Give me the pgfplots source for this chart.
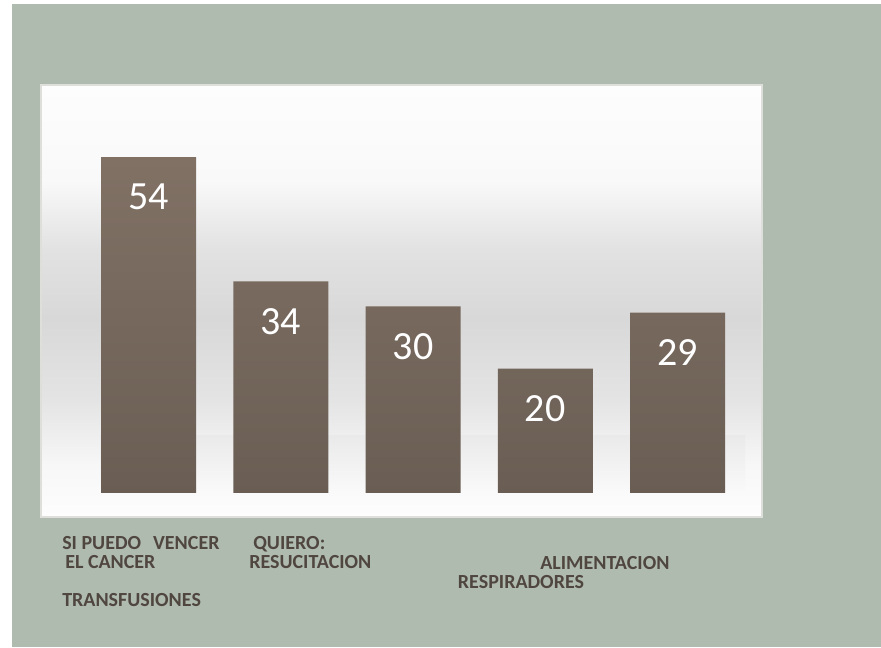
\documentclass[border=0pt]{standalone}
\usepackage{pgfplots}
\pgfplotsset{compat=1.18}
\usepackage{fontspec}
\setmainfont{Carlito}
\definecolor{panel}{RGB}{176,187,176}
\definecolor{labcol}{RGB}{80,70,64}
\definecolor{bartop}{RGB}{129,113,101}
\definecolor{barbot}{RGB}{106,94,84}
\definecolor{boxborder}{RGB}{222,222,218}
\definecolor{bgw}{RGB}{253,253,253}
\definecolor{bga}{RGB}{247,247,247}
\definecolor{bgb}{RGB}{228,228,228}
\definecolor{bgc}{RGB}{216,216,216}
\definecolor{bgd}{RGB}{226,226,226}
\definecolor{bge}{RGB}{249,249,249}
\pgfdeclareverticalshading{mybg}{100bp}{color(0bp)=(bgw); color(25bp)=(bgw); color(31bp)=(bga); color(38.5bp)=(bgb); color(48bp)=(bgc); color(56bp)=(bgd); color(64bp)=(bge); color(75bp)=(bgw); color(100bp)=(bgw)}
\begin{document}
\begin{tikzpicture}
\begin{scope}[x=0.75pt,y=0.75pt]
\fill[white] (0,0) rectangle (881,647);
\fill[panel] (12,0) rectangle (881,643);
\shadedraw[shading=mybg, draw=boxborder, line width=1.5pt] (41,130) rectangle (762,562);
\shade[top color=bgb!80!white, middle color=black!22, bottom color=bge] (100,212) rectangle (745,157);
\end{scope}
\begin{axis}[
  at={(30.75pt,97.5pt)}, anchor=south west,
  scale only axis,
  width=540.75pt, height=324pt,
  hide axis,
  xmin=-0.813, xmax=4.639,
  ymin=-3.86, ymax=65.59,
  ybar, bar width=71.25pt, bar shift=0pt,
  /pgf/number format/assume math mode=true,
  nodes near coords,
  every node near coord/.append style={anchor=center, yshift=-30pt,
    font=\fontsize{30}{30}\selectfont, text=white},
]
\addplot[draw=none, top color=bartop, bottom color=barbot] coordinates {(0,54) (1,34) (2,30) (3,20) (4,29)};
\end{axis}
\begin{scope}[x=0.75pt,y=0.75pt,every node/.style={anchor=base west, inner sep=0pt, text=labcol, font=\fontsize{15}{18}\selectfont\bfseries}]
\node at (62,97.7) {SI PUEDO\hspace{0.6em}VENCER};
\node at (65,78.7) {EL CANCER};
\node at (253,97.7) {QUIERO:};
\node at (249,78.7) {RESUCITACION};
\node at (62,40.3) {TRANSFUSIONES};
\node at (540,78) {ALIMENTACION};
\node at (457.7,59) {RESPIRADORES};
\end{scope}
\end{tikzpicture}
\end{document}
